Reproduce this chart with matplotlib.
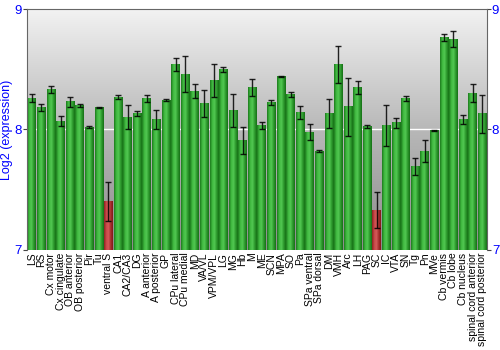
import numpy as np
import matplotlib
matplotlib.use("Agg")
import matplotlib.pyplot as plt
from matplotlib.colors import LinearSegmentedColormap

plt.rcParams["font.family"] = ["Liberation Sans", "DejaVu Sans"]

regions = [
    "LS", "RS", "Cx motor", "Cx cingulate", "OB anterior", "OB posterior", "Pir", "Tu",
    "ventral S", "CA1", "CA2/CA3", "DG", "A anterior", "A posterior", "GP",
    "CPu lateral", "CPu medial", "MD", "VA/VL", "VPM/VPL", "LG", "MG", "Hb", "M",
    "ME", "SCN", "MPA", "SO", "Pa", "SPa ventral", "SPa dorsal", "DM", "VMH", "Arc",
    "LH", "PAG", "SC", "IC", "VTA", "SN", "Tg", "Pn", "MVe", "Cb vermis", "Cb lobe",
    "Cb nucleus", "spinal cord anterior", "spinal cord posterior",
]
expression = [
    8.26, 8.18, 8.33, 8.07, 8.23, 8.20, 8.02, 8.18,
    7.40, 8.27, 8.10, 8.13, 8.26, 8.08, 8.245,
    8.54, 8.46, 8.32, 8.215, 8.405, 8.50, 8.157, 7.91, 8.35,
    8.033, 8.226, 8.44, 8.29, 8.143, 7.98, 7.82, 8.13, 8.54, 8.19,
    8.35, 8.025, 7.33, 8.03, 8.055, 8.256, 7.69, 7.82, 7.99, 8.766, 8.752,
    8.083, 8.30, 8.13,
]
errors = [
    0.033, 0.03, 0.03, 0.04, 0.04, 0.01, 0.01, 0.005,
    0.16, 0.02, 0.10, 0.02, 0.03, 0.08, 0.005,
    0.05, 0.15, 0.056, 0.11, 0.135, 0.02, 0.14, 0.11, 0.07,
    0.03, 0.02, 0.005, 0.02, 0.056, 0.065, 0.01, 0.12, 0.157, 0.24,
    0.054, 0.01, 0.15, 0.17, 0.044, 0.023, 0.07, 0.09, 0.005, 0.03, 0.065,
    0.04, 0.074, 0.16,
]
low_regions = ["ventral S", "SC"]

green = LinearSegmentedColormap.from_list(
    "g", ["#1c7a1c", "#3fb83f", "#52c852", "#2e9a2e", "#167016"])
red = LinearSegmentedColormap.from_list(
    "r", ["#8c2020", "#c84848", "#d45a5a", "#a83030", "#801818"])

fig = plt.figure(figsize=(5, 3.5), dpi=100)
ax = fig.add_axes([0.054, 0.286, 0.92, 0.688])

ymin, ymax = 7, 9
n = len(regions)
x = np.arange(n)

# background gradient, light at top
bg = LinearSegmentedColormap.from_list("bg", ["#f2f2f2", "#b8b8b8", "#8c8c8c"])
grad = np.linspace(0, 1, 256).reshape(-1, 1)
ax.imshow(grad, cmap=bg, aspect="auto", origin="upper",
          extent=[-0.5, n - 0.5, ymin, ymax], zorder=0)
ax.axhline(8, color="white", lw=1, zorder=1)

width = 0.9
hgrad = np.linspace(0, 1, 64).reshape(1, -1)
for i, (name, val) in enumerate(zip(regions, expression)):
    cmap = red if name in low_regions else green
    ax.imshow(hgrad, cmap=cmap, aspect="auto",
              extent=[i - width / 2, i + width / 2, ymin, val], zorder=2)

ax.errorbar(x, expression, yerr=errors, fmt="none", ecolor="black",
            elinewidth=1, capsize=2, capthick=1, alpha=0.85, zorder=3)

ax.set_xlim(-0.5, n - 0.5)
ax.set_ylim(ymin, ymax)
ax.set_xticks(x)
ax.set_xticklabels(regions, rotation=90, fontsize=7.5)
ax.tick_params(axis="x", length=0, pad=2)
ax.set_yticks([7, 8, 9])
ax.tick_params(axis="y", colors="#444444", labelcolor="#0000ff", labelsize=9.5,
               length=3, pad=0.5, left=True, right=True,
               labelleft=True, labelright=True)
ax.set_ylabel("Log2 (expression)", color="#0000ff", fontsize=9, labelpad=1)
for side in ["left", "right", "top"]:
    ax.spines[side].set_color("#666666")
ax.spines["bottom"].set_visible(False)

fig.savefig("out.png", dpi=100)
